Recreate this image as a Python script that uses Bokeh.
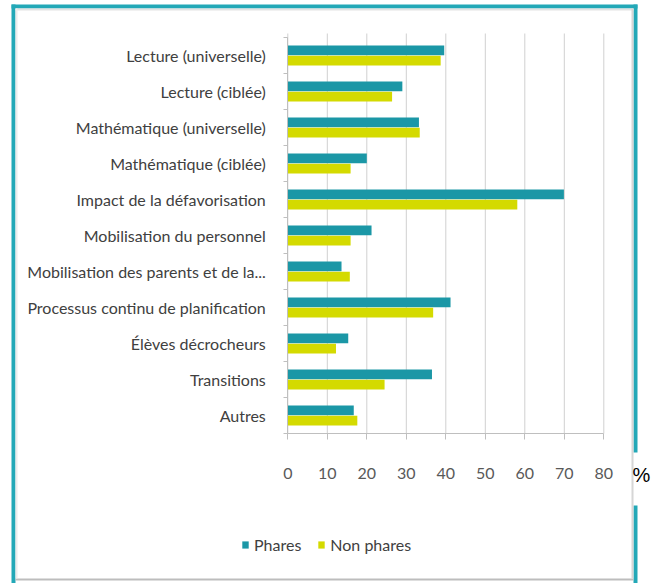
from bokeh.plotting import figure
from bokeh.models import (ColumnDataSource, Range1d, Legend, LegendItem,
                          BoxAnnotation, Label, FixedTicker)
from bokeh.transform import dodge
from bokeh.embed import file_html
from bokeh.resources import INLINE

categories = [
    "Lecture (universelle)",
    "Lecture (ciblée)",
    "Mathématique (universelle)",
    "Mathématique (ciblée)",
    "Impact de la défavorisation",
    "Mobilisation du personnel",
    "Mobilisation des parents et de la...",
    "Processus continu de planification",
    "Élèves décrocheurs",
    "Transitions",
    "Autres",
]
phares = [39.6, 29.0, 33.2, 20.0, 69.9, 21.2, 13.6, 41.2, 15.3, 36.5, 16.7]
non_phares = [38.7, 26.4, 33.4, 15.9, 58.1, 15.9, 15.7, 36.8, 12.2, 24.5, 17.6]
x_ticks = [0, 10, 20, 30, 40, 50, 60, 70, 80]
series_names = ["Phares", "Non phares"]
unit_label = "%"

TEAL = "#1b97a6"
YELLOW = "#d4da00"
FRAME = "#23a8b7"
GRID = "#d0d0d0"
FONT = "Lato"

W, H = 663, 583
# layout: pixel of value 0, pixels per unit, pixel of first category, category pitch
PX0, PXU = 287.3, 3.95
PY0, PYU = 55.0, 36.0

positions = list(range(len(categories)))
src = ColumnDataSource(dict(pos=positions, cat=categories,
                            phares=phares, non_phares=non_phares))

p = figure(width=W, height=H,
           x_range=Range1d(-PX0 / PXU, (W - PX0) / PXU),
           y_range=Range1d((H - PY0) / PYU, -PY0 / PYU),
           output_backend="svg", toolbar_location=None, min_border=0)
p.title.visible = False
p.outline_line_color = None
p.background_fill_color = "white"
p.border_fill_color = "white"
p.xgrid.visible = False
p.ygrid.visible = False

n = len(categories)
top_edge = -0.5 - 4.0 / PYU
# vertical grid lines at the tick values
p.segment(x0=x_ticks, x1=x_ticks, y0=[top_edge] * len(x_ticks), y1=[n - 0.5] * len(x_ticks),
          line_color=GRID, line_width=1, level="underlay")

r1 = p.hbar(y=dodge("pos", -0.14), left=0, right="phares",
            height=0.27, fill_color=TEAL, line_color=None, source=src)
r2 = p.hbar(y=dodge("pos", 0.14), left=0, right="non_phares",
            height=0.27, fill_color=YELLOW, line_color=None, source=src)

xa = p.xaxis[0]
xa.fixed_location = n - 0.5
xa.bounds = (x_ticks[0], x_ticks[-1])
xa.ticker = FixedTicker(ticks=x_ticks)
xa.axis_line_color = "#bfbfbf"
xa.major_tick_line_color = "#bfbfbf"
xa.major_tick_out = 6
xa.major_tick_in = 0
xa.minor_tick_line_color = None
xa.major_label_standoff = 28
xa.major_label_text_font = FONT
xa.major_label_text_font_size = "16px"
xa.major_label_text_color = "#595959"

ya = p.yaxis[0]
ya.fixed_location = 0
ya.bounds = (-0.5, n - 0.5)
ya.ticker = FixedTicker(ticks=positions, minor_ticks=[i - 0.5 for i in range(n + 1)])
ya.major_label_overrides = {i: c for i, c in zip(positions, categories)}
ya.axis_line_color = "#bfbfbf"
ya.major_tick_line_color = None
ya.major_tick_out = 0
ya.minor_tick_line_color = "#bfbfbf"
ya.minor_tick_out = 4
ya.minor_tick_in = 0
ya.major_label_standoff = 18
ya.major_label_text_font = FONT
ya.major_label_text_font_size = "16px"
ya.major_label_text_color = "#404040"

legend = Legend(items=[LegendItem(label=series_names[0], renderers=[r1]),
                       LegendItem(label=series_names[1], renderers=[r2])],
                location=(241, H - 554), orientation="horizontal",
                glyph_width=8, glyph_height=9, label_standoff=5, spacing=16,
                padding=0, margin=0, border_line_color=None,
                background_fill_alpha=0,
                label_text_font=FONT, label_text_font_size="16px",
                label_text_color="#404040")
p.add_layout(legend)

def box(l, r, t, b, color):
    return BoxAnnotation(left=l, right=r, top=H - t, bottom=H - b,
                         left_units="screen", right_units="screen",
                         top_units="screen", bottom_units="screen",
                         fill_color=color, fill_alpha=1.0, line_color=None)

for bx in [box(11, 637, 4, 8, FRAME),
           box(11, 15, 4, 583, FRAME),
           box(633, 637, 4, 452, FRAME),
           box(633, 637, 505, 583, FRAME),
           box(15, 633, 578, 580, "#bdbdbd"),
           box(15, 633, 8, 10, "#e3e3e3"),
           box(15, 17, 8, 578, "#ececec"),
           box(631, 633, 8, 578, "#d6d6d6")]:
    p.add_layout(bx)

p.add_layout(Label(x=641, y=H - 474, x_units="screen", y_units="screen", text=unit_label,
                   text_align="center", text_baseline="middle",
                   text_font="Liberation Sans", text_font_size="20px",
                   text_color="black"))

open("out.html", "w").write(file_html(p, INLINE))
